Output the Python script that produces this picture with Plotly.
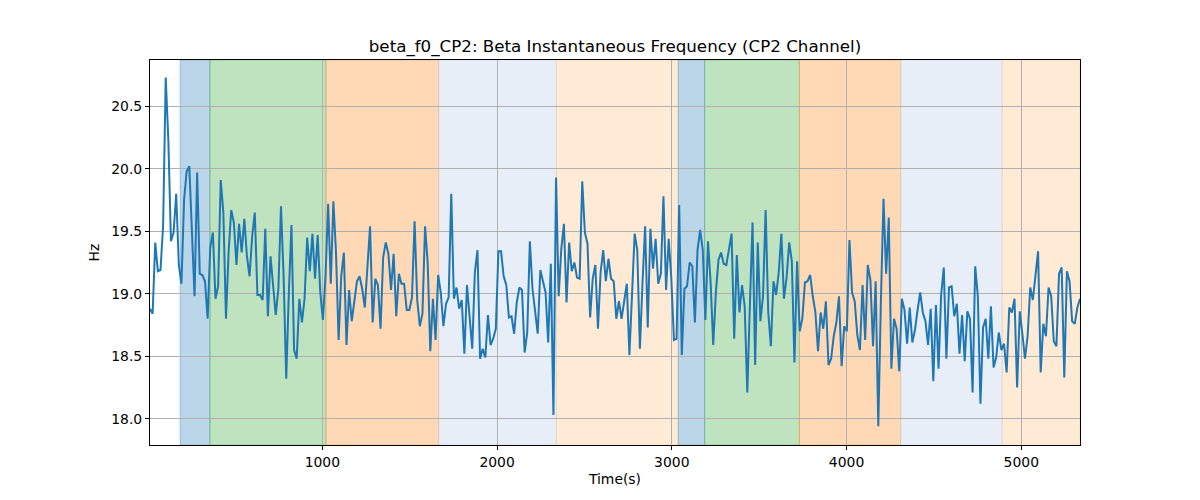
import numpy as np
import plotly.graph_objects as go

# Beta instantaneous frequency values (Hz), read left to right
vals_a = [18.88, 18.84, 19.41, 19.18, 19.19, 19.54, 20.73, 20.23, 19.42, 19.49, 19.8, 19.23, 19.08, 19.75,
          19.98, 20.02, 19.5, 18.98, 19.97, 19.16, 19.15, 19.1, 18.8, 19.37, 19.49, 18.96, 19.06, 19.91,
          19.65, 18.8, 19.33, 19.67, 19.57, 19.23, 19.56, 19.33, 19.6, 19.3, 19.14, 19.46, 19.65, 18.99,
          18.99, 18.95, 19.52, 18.82, 19.3, 19.06, 18.83, 19.04, 19.7, 19.14, 18.32, 19.01, 19.55, 18.55,
          18.48, 18.96, 18.77, 18.96]
vals_b = [19.45, 19.18, 19.48, 19.12, 19.47, 19.01, 18.79, 19.14, 19.72, 19.08, 19.74, 19.33, 18.63, 19.14,
          19.33, 18.59, 19.03, 18.78, 18.92, 19.1, 19.14, 19.04, 18.89, 19.25, 19.54, 18.77, 19.12, 19.07,
          18.72, 19.29, 19.41, 19.32, 19.03, 19.32, 18.82, 19.16, 19.08, 19.08, 18.87, 18.87, 18.97, 19.58,
          18.95, 18.74, 18.84, 19.54, 19.25, 18.54, 18.96, 18.63, 19.15, 19.01, 18.74, 18.92, 18.97, 19.8,
          18.96, 19.05, 18.88]
vals_c = [18.95, 18.52, 19.07, 18.82, 18.56, 19.17, 19.35, 18.48, 18.56, 18.49, 18.83, 18.59, 18.64, 18.72,
          19.34, 19.34, 19.14, 19.07, 18.81, 18.82, 18.68, 18.93, 19.05, 19.03, 18.53, 18.69, 19.42, 19.04,
          18.85, 18.68, 19.19, 19.1, 19.01, 18.61, 19.24, 18.03, 19.93, 18.98, 19.36, 19.56, 18.93, 19.41,
          19.18, 19.25, 19.13, 19.12, 19.9, 19.49, 19.4, 18.81, 19.12, 19.23, 18.72, 19.17, 19.35, 19.1,
          19.28, 19.12, 19.1]
vals_d = [18.8, 18.94, 18.8, 18.96, 19.08, 18.51, 19.04, 19.48, 19.35, 18.56, 19.09, 19.54, 18.73, 19.52,
          19.2, 19.44, 19.08, 19.16, 19.78, 19.03, 19.44, 19.12, 18.63, 18.64, 19.71, 18.51, 19.04, 19.06,
          19.25, 19.22, 18.77, 19.35, 19.51, 19.35, 18.79, 19.42, 19.09, 18.59, 19.01, 19.27, 19.33, 19.24,
          19.23, 19.36, 19.48, 18.64, 19.31, 18.85, 19.07, 18.9, 18.21, 18.92, 19.57, 18.43, 19.41, 18.78,
          18.98, 19.67, 18.85]
vals_e = [18.58, 19.1, 18.99, 19.17, 19.48, 18.96, 19.13, 19.41, 19.26, 18.45, 19.26, 18.7, 18.8, 19.09,
          19.1, 19.15, 18.98, 18.85, 18.54, 18.85, 18.72, 18.94, 18.43, 18.48, 18.66, 18.77, 18.98, 18.42,
          18.74, 18.7, 19.43, 19.01, 18.94, 18.67, 18.55, 19.07, 18.63, 19.23, 19.11, 18.58, 19.1, 17.94,
          18.94, 19.76, 19.16, 19.61, 18.4, 18.8, 18.72, 18.38, 18.96, 18.87, 18.6, 18.89, 18.61, 18.71,
          18.87, 19.01, 18.85]
vals_f = [18.78, 18.59, 18.88, 18.3, 18.91, 18.4, 18.99, 19.21, 18.48, 19.05, 19.06, 18.82, 18.92, 18.52,
          18.83, 18.46, 18.86, 18.8, 18.21, 19.22, 18.98, 18.12, 18.73, 18.8, 18.48, 18.9, 18.41, 18.49,
          18.69, 18.55, 18.6, 18.37, 18.89, 18.85, 18.96, 18.25, 18.86, 18.68, 18.48, 18.66, 19.05, 18.95,
          19.15, 19.34, 18.37, 18.76, 18.66, 19.05, 18.98, 18.62, 18.58, 19.16, 19.21, 18.33, 19.18, 19.1,
          18.78, 18.76, 18.89, 18.96]

values = vals_a + vals_b + vals_c + vals_d + vals_e + vals_f
t_start, t_end = 14, 5336
times = np.linspace(t_start, t_end, len(values))

# Shaded segments: (start, end, colour)
band_starts = [186, 357, 1021, 1666, 2339, 3037, 3188, 3730, 4310, 4891]
band_ends = [357, 1021, 1666, 2339, 3037, 3188, 3730, 4310, 4891, 5336]
band_colors = ["rgba(31,119,180,0.3)", "rgba(44,160,44,0.3)", "rgba(255,127,14,0.3)",
               "rgba(174,199,232,0.3)", "rgba(255,187,120,0.3)",
               "rgba(31,119,180,0.3)", "rgba(44,160,44,0.3)", "rgba(255,127,14,0.3)",
               "rgba(174,199,232,0.3)", "rgba(255,187,120,0.3)"]

x_ticks = [1000, 2000, 3000, 4000, 5000]
y_ticks = [18.0, 18.5, 19.0, 19.5, 20.0, 20.5]

fig = go.Figure()
for s, e, c in zip(band_starts, band_ends, band_colors):
    fig.add_vrect(x0=s, x1=e, fillcolor=c, line=dict(color=c, width=1), layer="below")

fig.add_trace(go.Scatter(x=times, y=values, mode="lines",
                         line=dict(color="#1f77b4", width=2), showlegend=False))

# page body adds an 8px offset; margins are compensated for it
font_family = "DejaVu Sans, Arial, sans-serif"
fig.update_layout(
    width=1200, height=500,
    margin=dict(l=142, r=128, t=52, b=63, autoexpand=False),
    paper_bgcolor="white", plot_bgcolor="white",
    font=dict(family=font_family, size=13.9, color="black"),
    title=dict(text="beta_f0_CP2: Beta Instantaneous Frequency (CP2 Channel)",
               x=(142 + 1072) / 2 / 1200, xanchor="center", y=1 - 38 / 500, yanchor="middle",
               font=dict(size=16.7, family=font_family, color="black"), automargin=False),
)
fig.update_xaxes(range=[t_start, t_end], tickvals=x_ticks, showgrid=True, gridcolor="#b0b0b0",
                 gridwidth=1, showline=True, linecolor="black", linewidth=1, mirror=True,
                 ticks="outside", ticklen=4, tickcolor="black", zeroline=False, automargin=False,
                 title=dict(text="Time(s)", font=dict(size=13.9), standoff=5),
                 tickfont=dict(size=13.9))
fig.update_yaxes(range=[17.79, 20.87], tickvals=y_ticks, tickformat=".1f", showgrid=True,
                 gridcolor="#b0b0b0", gridwidth=1, showline=True, linecolor="black", linewidth=1,
                 mirror=True, ticks="outside", ticklen=4, tickcolor="black", zeroline=False,
                 automargin=False,
                 title=dict(text="Hz", font=dict(size=13.9), standoff=8),
                 tickfont=dict(size=13.9))

fig.write_html("out.html")
